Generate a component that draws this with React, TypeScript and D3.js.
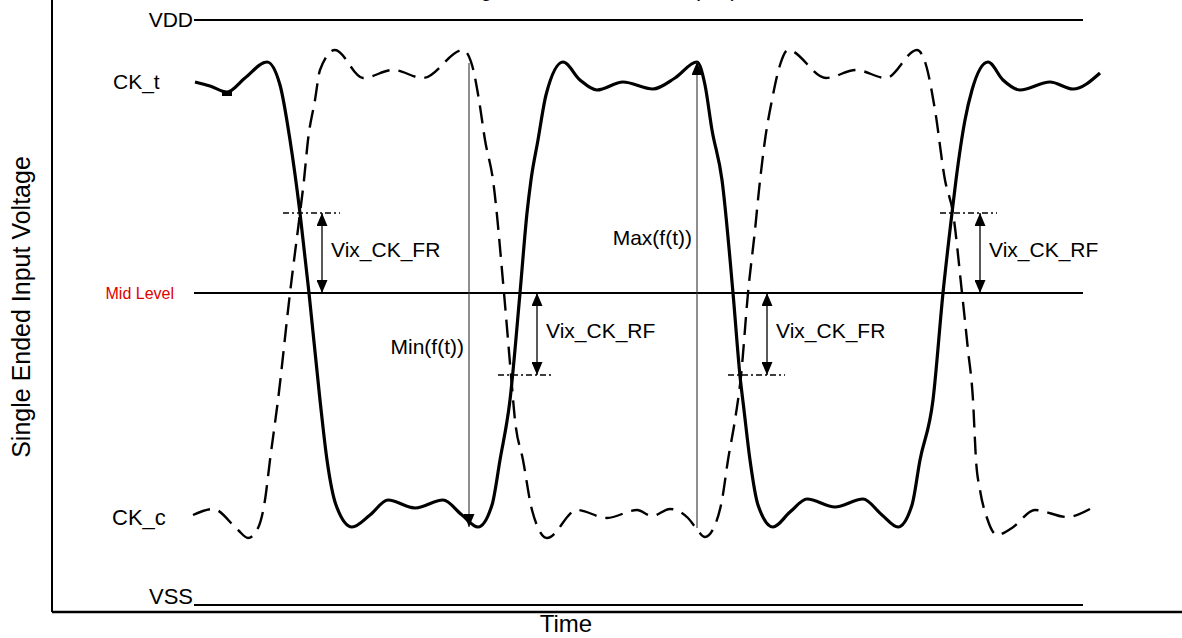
import React from "react";
import * as d3 from "d3";

const W = 1182;
const H = 638;

// time in ps, voltage in mV
const levelNames = ["VDD", "Mid Level", "VSS"];
const levelValues = [1170, 624, 0];
const levelColors = ["#000", "#e00000", "#000"];
const levelStart = 142;
const levelEnd = 1031;

const ckT_time = [143, 158, 175, 193, 215, 228, 238, 248, 257, 268, 275, 284, 300, 318, 336, 363, 391, 410, 426, 440, 448, 458, 468, 475, 479, 486, 494, 511, 528, 545, 571, 601, 623, 645, 653, 660, 670, 681, 688, 692, 698, 706, 721, 738, 755, 783, 811, 830, 846, 860, 868, 881, 891, 900, 904, 913, 920, 936, 951, 968, 998, 1021, 1048];
const ckT_volt = [1046, 1038, 1026, 1054, 1086, 1040, 930, 784, 624, 410, 290, 200, 156, 180, 210, 194, 210, 180, 156, 200, 290, 410, 624, 784, 850, 930, 1020, 1086, 1050, 1030, 1046, 1032, 1054, 1086, 1040, 950, 850, 624, 458, 390, 290, 200, 156, 186, 212, 196, 212, 180, 156, 200, 290, 410, 624, 784, 850, 970, 1030, 1086, 1050, 1030, 1046, 1032, 1064];

const ckC_time = [141, 161, 186, 196, 206, 213, 218, 226, 238, 248, 252, 256, 263, 268, 283, 311, 341, 371, 411, 420, 427, 433, 441, 452, 459, 463, 471, 480, 495, 525, 555, 585, 600, 618, 636, 644, 653, 663, 670, 676, 683, 689, 696, 703, 707, 713, 720, 728, 736, 774, 804, 834, 865, 874, 883, 893, 901, 910, 916, 921, 924, 928, 935, 945, 960, 983, 1015, 1038];
const ckC_volt = [180, 192, 150, 134, 154, 210, 290, 410, 624, 784, 850, 930, 1010, 1070, 1110, 1054, 1070, 1054, 1110, 1080, 1010, 930, 850, 624, 460, 370, 290, 190, 134, 190, 174, 190, 178, 192, 174, 154, 136, 160, 210, 290, 370, 458, 624, 750, 830, 930, 1010, 1080, 1110, 1054, 1070, 1054, 1110, 1080, 990, 850, 784, 624, 510, 410, 290, 230, 174, 140, 154, 190, 176, 192];

// Vix annotations
const vixLabels = ["Vix_CK_FR", "Vix_CK_RF", "Vix_CK_FR", "Vix_CK_RF"];
const vixTime = [270, 485, 715, 928];
const vixLevel = [784, 460, 460, 784];
const vixRefFrom = [231, 446, 676, 888];
const vixRefTo = [288, 501, 733, 945];
const midLevel = 624;

// Min / Max of f(t)
const extLabels = ["Min(f(t))", "Max(f(t))"];
const extTime = [417, 645];
const extFrom = [1084, 154];
const extTo = [156, 1086];
const extLabelVolt = [516, 734];

const glitchTime = 175;
const glitchVolt = 1026;

const FONT = "Liberation Sans, Arial, sans-serif";

export default function App() {
  const x = d3.scaleLinear().domain([0, 1130]).range([52, 1182]);
  const y = d3.scaleLinear().domain([0, 1170]).range([605, 20]);

  const path = (ts: number[], vs: number[]) =>
    d3
      .line<number>()
      .x((t) => x(t))
      .y((_, i) => y(vs[i]))
      .curve(d3.curveMonotoneX)(ts) || "";

  const axisX = x(0);
  const axisY = 612;

  return (
    <svg
      width={W}
      height={H}
      style={{ position: "absolute", left: 0, top: 0, background: "#fff" }}
      fontFamily={FONT}
    >
      <defs>
        <marker id="ah" viewBox="0 0 13 11" refX="13" refY="5.5" markerWidth="13" markerHeight="11" markerUnits="userSpaceOnUse" orient="auto-start-reverse">
          <path d="M0,0 L13,5.5 L0,11 Z" fill="#000" />
        </marker>
      </defs>

      {/* title, mostly clipped above the page as in the source */}
      <text x={600} y={-4} fontSize={22} textAnchor="middle">
        Figure — Vix Definition (CK)
      </text>

      {/* frame */}
      <line x1={axisX} x2={axisX} y1={0} y2={axisY} stroke="#000" strokeWidth={2} />
      <line x1={axisX} x2={W} y1={axisY} y2={axisY} stroke="#000" strokeWidth={2.5} />
      <text x={566} y={632} fontSize={24} textAnchor="middle">Time</text>
      <text transform={`translate(30,307) rotate(-90)`} fontSize={25} textAnchor="middle">
        Single Ended Input Voltage
      </text>

      {/* reference levels */}
      {levelNames.map((n, i) => (
        <g key={n}>
          <line x1={x(levelStart)} x2={x(levelEnd)} y1={y(levelValues[i])} y2={y(levelValues[i])} stroke="#000" strokeWidth={2} />
          <text
            x={x(levelStart) - (n === "Mid Level" ? 20 : 1)}
            y={y(levelValues[i]) - (n === "VSS" ? 9 : 0)}
            dy="0.35em"
            fontSize={n === "Mid Level" ? 16 : n === "VSS" ? 22 : 21}
            fill={levelColors[i]}
            textAnchor="end"
          >
            {n}
          </text>
        </g>
      ))}

      <text x={113} y={y(1046)} dy="0.35em" fontSize={21}>CK_t</text>
      <text x={112} y={y(176)} dy="0.35em" fontSize={22}>CK_c</text>

      {/* waveforms */}
      <path d={path(ckC_time, ckC_volt)} fill="none" stroke="#000" strokeWidth={2.4} strokeDasharray="18 9" />
      <path d={path(ckT_time, ckT_volt)} fill="none" stroke="#000" strokeWidth={3.2} strokeLinejoin="round" />
      <rect x={x(glitchTime) - 5} y={y(glitchVolt) - 1} width={10} height={5} fill="#000" />

      {/* Vix reference levels and arrows */}
      {vixLabels.map((lab, i) => {
        const top = Math.max(vixLevel[i], midLevel);
        const bot = Math.min(vixLevel[i], midLevel);
        return (
          <g key={i}>
            <line x1={x(vixRefFrom[i])} x2={x(vixRefTo[i])} y1={y(vixLevel[i])} y2={y(vixLevel[i])} stroke="#000" strokeWidth={1.5} strokeDasharray="6 3 2 3" />
            <line
              x1={x(vixTime[i])}
              x2={x(vixTime[i])}
              y1={y(top)}
              y2={y(bot)}
              stroke="#000"
              strokeWidth={1.3}
              markerStart="url(#ah)"
              markerEnd="url(#ah)"
            />
            <text x={x(vixTime[i]) + 9} y={(y(top) + y(bot)) / 2 - 3} dy="0.35em" fontSize={21}>
              {lab}
            </text>
          </g>
        );
      })}

      {/* Min/Max arrows */}
      {extLabels.map((lab, i) => (
        <g key={lab}>
          <line
            x1={x(extTime[i])}
            x2={x(extTime[i])}
            y1={y(extFrom[i])}
            y2={y(extTo[i])}
            stroke="#333"
            strokeWidth={1.1}
            markerEnd="url(#ah)"
          />
          <text x={x(extTime[i]) - 5} y={y(extLabelVolt[i])} dy="0.35em" fontSize={21} textAnchor="end">
            {lab}
          </text>
        </g>
      ))}
    </svg>
  );
}
